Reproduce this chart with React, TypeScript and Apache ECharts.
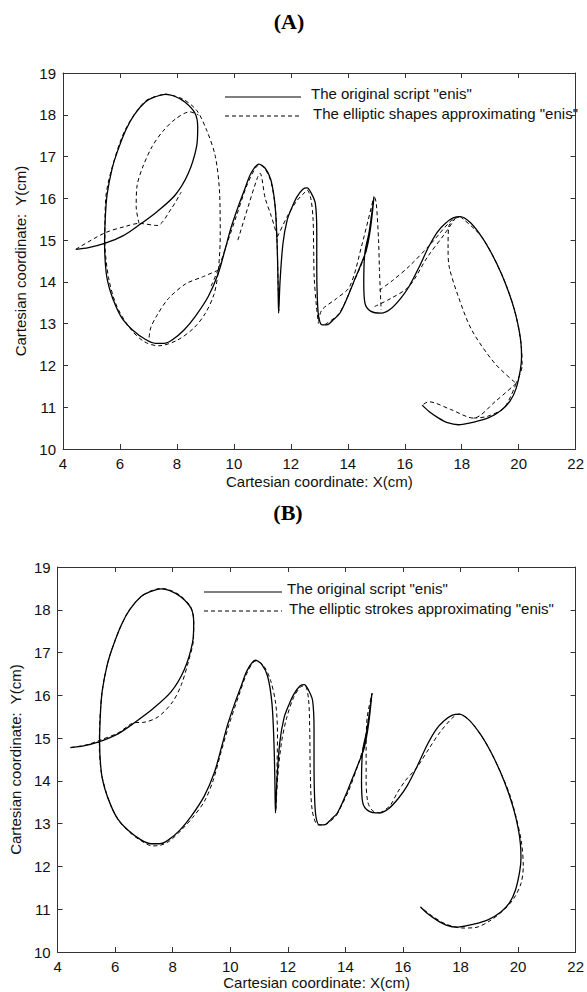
import React, { useEffect, useRef } from "react";
import * as echarts from "echarts";

type Pt = [number, number];

// Axis ticks
const xTicks = { min: 4, max: 22, interval: 2 };
const yTicks = { min: 10, max: 19, interval: 1 };

const titleA = "(A)";
const titleB = "(B)";
const legendOriginal = 'The original script "enis"';
const legendShapes = 'The elliptic shapes approximating "enis"';
const legendStrokes = 'The elliptic strokes approximating "enis"';
const xName = "Cartesian coordinate: X(cm)";
const yName = "Cartesian coordinate:  Y(cm)";

// The original handwritten script "enis" (x, y in cm)
const scriptEnis: Pt[] = [
  [4.45, 14.78], [4.9, 14.82], [5.46, 14.92], [6.1, 15.1], [6.67, 15.36], [7.3, 15.68],
  [7.94, 16.08], [8.4, 16.6], [8.69, 17.24], [8.73, 17.7], [8.64, 18.03], [8.29, 18.3],
  [7.9, 18.45], [7.6, 18.49], [7.2, 18.42], [6.9, 18.31], [6.5, 18.0], [6.21, 17.64],
  [5.9, 17.1], [5.72, 16.7], [5.55, 16.1], [5.49, 15.6], [5.46, 14.92], [5.52, 14.2],
  [5.65, 13.8], [5.86, 13.41], [6.1, 13.1], [6.44, 12.85], [6.9, 12.62], [7.25, 12.53],
  [7.55, 12.53], [7.83, 12.61], [8.25, 12.85], [8.64, 13.17], [9.1, 13.65], [9.45, 14.2],
  [9.7, 14.8], [9.91, 15.32], [10.15, 15.8], [10.37, 16.2], [10.6, 16.6], [10.88, 16.82],
  [11.1, 16.72], [11.3, 16.44], [11.45, 15.8], [11.52, 14.84], [11.55, 14.0], [11.57, 13.25],
  [11.62, 14.0], [11.72, 14.9], [11.87, 15.48], [12.05, 15.8], [12.22, 16.04], [12.42, 16.22],
  [12.57, 16.25], [12.72, 16.12], [12.86, 15.88], [12.91, 15.2], [12.91, 14.3], [12.93, 13.6],
  [12.98, 13.15], [13.1, 12.97], [13.3, 12.98], [13.5, 13.1], [13.72, 13.25], [14.0, 13.65],
  [14.19, 13.97], [14.45, 14.4], [14.65, 14.76], [14.8, 15.3], [14.92, 16.04], [14.75, 15.2],
  [14.6, 14.7], [14.56, 14.0], [14.6, 13.5], [14.8, 13.3], [15.17, 13.25], [15.5, 13.35],
  [15.85, 13.6], [16.15, 13.89], [16.5, 14.35], [16.84, 14.84], [17.15, 15.2], [17.42, 15.4],
  [17.7, 15.53], [17.95, 15.56], [18.3, 15.42], [18.7, 15.08], [19.05, 14.68], [19.39, 14.2],
  [19.65, 13.75], [19.85, 13.33], [20.0, 12.9], [20.08, 12.53], [20.1, 12.2], [20.06, 11.9],
  [19.91, 11.45], [19.7, 11.15], [19.39, 10.93], [18.95, 10.75], [18.46, 10.65], [17.88, 10.58],
  [17.5, 10.63], [17.19, 10.74], [16.85, 10.9], [16.61, 11.05],
];

// (A) elliptic shapes approximating "enis"
const shapeTail: Pt[] = [[4.45, 14.78], [5.46, 15.17], [6.2, 15.33], [6.67, 15.4], [7.3, 15.35], [7.8, 15.75], [8.15, 16.15]];
const shapeInnerLoop: Pt[] = [[6.67, 15.4], [6.57, 15.8], [6.6, 16.3], [6.8, 16.75], [7.13, 17.24], [7.5, 17.6], [7.95, 17.9], [8.45, 18.07], [8.75, 18.0]];
const shapeOuterLoop: Pt[] = [
  [7.6, 18.5], [8.2, 18.38], [8.7, 18.1], [9.05, 17.62], [9.35, 17.0], [9.5, 16.1], [9.52, 15.1],
  [9.45, 14.25], [9.3, 13.7], [9.0, 13.25], [8.6, 12.9], [8.0, 12.6], [7.35, 12.47], [6.85, 12.57],
  [6.4, 12.85], [5.9, 13.4], [5.6, 14.1], [5.47, 15.0], [5.5, 16.0], [5.75, 16.8], [6.2, 17.66],
  [6.9, 18.33], [7.6, 18.5],
];
const shapeLink: Pt[] = [[9.45, 14.28], [8.9, 14.12], [8.3, 13.95], [7.7, 13.6], [7.3, 13.2], [7.08, 12.9], [7.02, 12.65]];
const shapeHump1: Pt[] = [
  [9.2, 13.9], [9.45, 14.3], [9.75, 14.9], [10.1, 15.6], [10.45, 16.3], [10.75, 16.72], [10.9, 16.8],
  [11.1, 16.7], [11.3, 16.4], [11.45, 15.8], [11.52, 14.9], [11.55, 14.0], [11.58, 13.3],
];
const shapeHump1Inner: Pt[] = [[10.14, 15.0], [10.5, 15.8], [10.83, 16.5], [10.92, 16.6], [11.1, 16.0], [11.3, 15.6], [11.53, 15.08]];
const shapeHump2: Pt[] = [
  [11.53, 15.08], [11.9, 15.6], [12.22, 15.95], [12.5, 16.15], [12.57, 16.2], [12.7, 16.0], [12.78, 15.5],
  [12.8, 14.8], [12.82, 14.1], [12.9, 13.4], [12.97, 13.0],
];
const shapeLinkI: Pt[] = [[12.97, 13.05], [13.09, 13.33], [13.6, 13.6], [14.07, 13.89], [14.5, 14.9], [14.9, 16.0]];
const shapeIUp: Pt[] = [[13.2, 12.98], [13.7, 13.25], [14.19, 13.97], [14.65, 14.76], [14.9, 16.02]];
const shapeIDown: Pt[] = [[14.95, 16.02], [15.0, 15.88], [15.08, 15.0], [15.11, 14.3], [15.17, 13.33]];
const shapeSUpper: Pt[] = [[15.11, 13.8], [15.6, 14.05], [16.15, 14.37], [16.9, 14.9], [17.65, 15.48], [17.95, 15.56]];
const shapeSLower: Pt[] = [[14.94, 13.41], [15.5, 13.6], [16.15, 13.89], [16.8, 14.6], [17.4, 15.15], [17.77, 15.52]];
const shapeSInner: Pt[] = [[17.77, 15.52], [17.54, 15.32], [17.52, 14.8], [17.56, 14.36], [17.88, 13.65], [18.35, 12.85], [19.16, 12.05], [19.91, 11.57]];
const shapeSOuter: Pt[] = [[17.95, 15.56], [18.7, 15.08], [19.39, 14.2], [19.85, 13.33], [20.08, 12.53], [20.12, 12.0], [19.91, 11.57]];
const shapeSChord: Pt[] = [[19.91, 11.57], [19.2, 11.15], [18.41, 10.74], [17.6, 10.95], [16.84, 11.13], [16.61, 11.05]];
const shapeSBottom: Pt[] = [[18.41, 10.74], [18.9, 10.78], [19.5, 11.0], [19.91, 11.57]];

const shapesA: Pt[][] = [
  shapeTail, shapeInnerLoop, shapeOuterLoop, shapeLink, shapeHump1, shapeHump1Inner, shapeHump2,
  shapeLinkI, shapeIUp, shapeIDown, shapeSUpper, shapeSLower, shapeSInner, shapeSOuter, shapeSChord, shapeSBottom,
];

// (B) elliptic strokes approximating "enis"
const strokeE: Pt[] = [
  [4.45, 14.78], [5.0, 14.84], [5.46, 14.95], [6.1, 15.12], [6.67, 15.36], [7.0, 15.37], [7.5, 15.5],
  [8.0, 15.85], [8.3, 16.25], [8.55, 16.8], [8.72, 17.3], [8.73, 17.7], [8.64, 18.05], [8.29, 18.32],
  [7.9, 18.46], [7.6, 18.5], [7.2, 18.43], [6.9, 18.3], [6.5, 18.0], [6.2, 17.62], [5.9, 17.1],
  [5.72, 16.7], [5.55, 16.1], [5.46, 15.3], [5.45, 14.8], [5.52, 14.2], [5.68, 13.75], [5.9, 13.35],
  [6.15, 13.05], [6.5, 12.8], [6.9, 12.6], [7.3, 12.48], [7.6, 12.5], [7.9, 12.6], [8.3, 12.85],
  [8.7, 13.15], [9.1, 13.52], [9.4, 14.0], [9.65, 14.6],
];
const strokeN: Pt[] = [
  [9.65, 14.6], [9.95, 15.3], [10.3, 16.0], [10.6, 16.55], [10.88, 16.8], [11.15, 16.7], [11.4, 16.35],
  [11.58, 15.8], [11.64, 15.1], [11.62, 14.2], [11.58, 13.3], [11.65, 14.1], [11.78, 14.9], [11.95, 15.45],
  [12.2, 15.95], [12.45, 16.2], [12.6, 16.22], [12.72, 15.9], [12.76, 15.2], [12.78, 14.2], [12.85, 13.3],
  [13.05, 12.97], [13.3, 12.98], [13.7, 13.2],
];
const strokeI: Pt[] = [
  [13.7, 13.2], [14.1, 13.75], [14.4, 14.3], [14.65, 14.85], [14.8, 15.4], [14.93, 16.05], [14.76, 15.5],
  [14.72, 14.8], [14.72, 14.0], [14.78, 13.5], [14.95, 13.3], [15.2, 13.25],
];
const strokeS: Pt[] = [
  [15.2, 13.25], [15.55, 13.42], [15.8, 13.72], [16.1, 14.02], [16.47, 14.3], [16.9, 14.75], [17.3, 15.15],
  [17.73, 15.48], [17.95, 15.56], [18.3, 15.42], [18.7, 15.08], [19.05, 14.68], [19.39, 14.2], [19.7, 13.7],
  [19.95, 13.1], [20.12, 12.55], [20.18, 12.0], [20.1, 11.6], [19.85, 11.25], [19.5, 10.98], [19.0, 10.72],
  [18.5, 10.57], [18.08, 10.56], [17.5, 10.65], [17.0, 10.85], [16.61, 11.05],
];
const strokesB: Pt[][] = [strokeE, strokeN, strokeI, strokeS];

const FONT = "'Liberation Sans', Arial, sans-serif";
const AXIS_COLOR = "#333";
const FS = 15;

function axesFor(gridIndex: number, yGap: number, xGap: number) {
  const line = { show: true, onZero: false, lineStyle: { color: AXIS_COLOR, width: 1 } };
  const tick = { show: true, inside: true, length: 5, lineStyle: { color: AXIS_COLOR, width: 1 } };
  const label = { color: "#111", fontSize: FS, fontFamily: FONT };
  const nameStyle = { color: "#111", fontSize: FS, fontFamily: FONT };
  const xs = [
    {
      type: "value", gridIndex, position: "bottom", ...xTicks,
      axisLine: line, axisTick: tick, axisLabel: { ...label, margin: 7 }, splitLine: { show: false },
      name: xName, nameLocation: "middle", nameGap: xGap, nameTextStyle: nameStyle,
    },
    {
      type: "value", gridIndex, position: "top", ...xTicks,
      axisLine: line, axisTick: tick, axisLabel: { show: false }, splitLine: { show: false },
    },
  ];
  const ys = [
    {
      type: "value", gridIndex, position: "left", ...yTicks,
      axisLine: line, axisTick: tick, axisLabel: { ...label, margin: 7 }, splitLine: { show: false },
      name: yName, nameLocation: "middle", nameGap: yGap, nameTextStyle: nameStyle,
    },
    {
      type: "value", gridIndex, position: "right", ...yTicks,
      axisLine: line, axisTick: tick, axisLabel: { show: false }, splitLine: { show: false },
    },
  ];
  return { xs, ys };
}

function solidSeries(data: Pt[], axisIdx: number) {
  return {
    type: "line", data, xAxisIndex: axisIdx, yAxisIndex: axisIdx, symbol: "none", showSymbol: false,
    smooth: 0.3, silent: true, lineStyle: { color: "#000", width: 1.3 },
  };
}
function dashedSeries(data: Pt[], axisIdx: number) {
  return {
    type: "line", data, xAxisIndex: axisIdx, yAxisIndex: axisIdx, symbol: "none", showSymbol: false,
    smooth: 0.3, silent: true, lineStyle: { color: "#000", width: 1, type: [4, 3] },
  };
}

function legendGraphic(x1: number, x2: number, y1: number, y2: number, tx: number, t1: string, t2: string) {
  return [
    { type: "line", shape: { x1, y1, x2, y2: y1 }, style: { stroke: "#000", lineWidth: 1.2 } },
    { type: "line", shape: { x1, y1: y2, x2, y2 }, style: { stroke: "#000", lineWidth: 1, lineDash: [4, 3] } },
    { type: "text", x: tx, y: y1 - 4, style: { text: t1, fill: "#111", font: `${FS}px ${FONT}`, textVerticalAlign: "middle" } },
    { type: "text", x: tx + 2, y: y2 - 3, style: { text: t2, fill: "#111", font: `${FS}px ${FONT}`, textVerticalAlign: "middle" } },
  ];
}

export default function App() {
  const ref = useRef<HTMLDivElement>(null);
  useEffect(() => {
    if (!ref.current) return;
    const chart = echarts.init(ref.current, null, { renderer: "svg" });
    const a = axesFor(0, 31, 25);
    const b = axesFor(1, 34, 22);
    const series: any[] = [];
    series.push(solidSeries(scriptEnis, 0));
    shapesA.forEach((s) => series.push(dashedSeries(s, 0)));
    series.push(solidSeries(scriptEnis, 2));
    strokesB.forEach((s) => series.push(dashedSeries(s, 2)));
    const titleFont = "bold 22px 'Liberation Serif', 'Times New Roman', serif";
    const option: any = {
      animation: false,
      backgroundColor: "#fff",
      grid: [
        { left: 63, top: 73, width: 519, height: 376 },
        { left: 57, top: 567, width: 524, height: 385 },
      ],
      xAxis: [...a.xs, ...b.xs],
      yAxis: [...a.ys, ...b.ys],
      series,
      graphic: [
        { type: "text", x: 289, y: 21, style: { text: titleA, fill: "#000", font: titleFont, textAlign: "center", textVerticalAlign: "middle" } },
        { type: "text", x: 288, y: 512, style: { text: titleB, fill: "#000", font: titleFont, textAlign: "center", textVerticalAlign: "middle" } },
        ...legendGraphic(225, 301, 97, 116, 311, legendOriginal, legendShapes),
        ...legendGraphic(204, 282, 592, 611, 287, legendOriginal, legendStrokes),
      ],
    };
    chart.setOption(option);
    return () => chart.dispose();
  }, []);
  return <div ref={ref} style={{ position: "absolute", left: 0, top: 0, width: 587, height: 992 }} />;
}
